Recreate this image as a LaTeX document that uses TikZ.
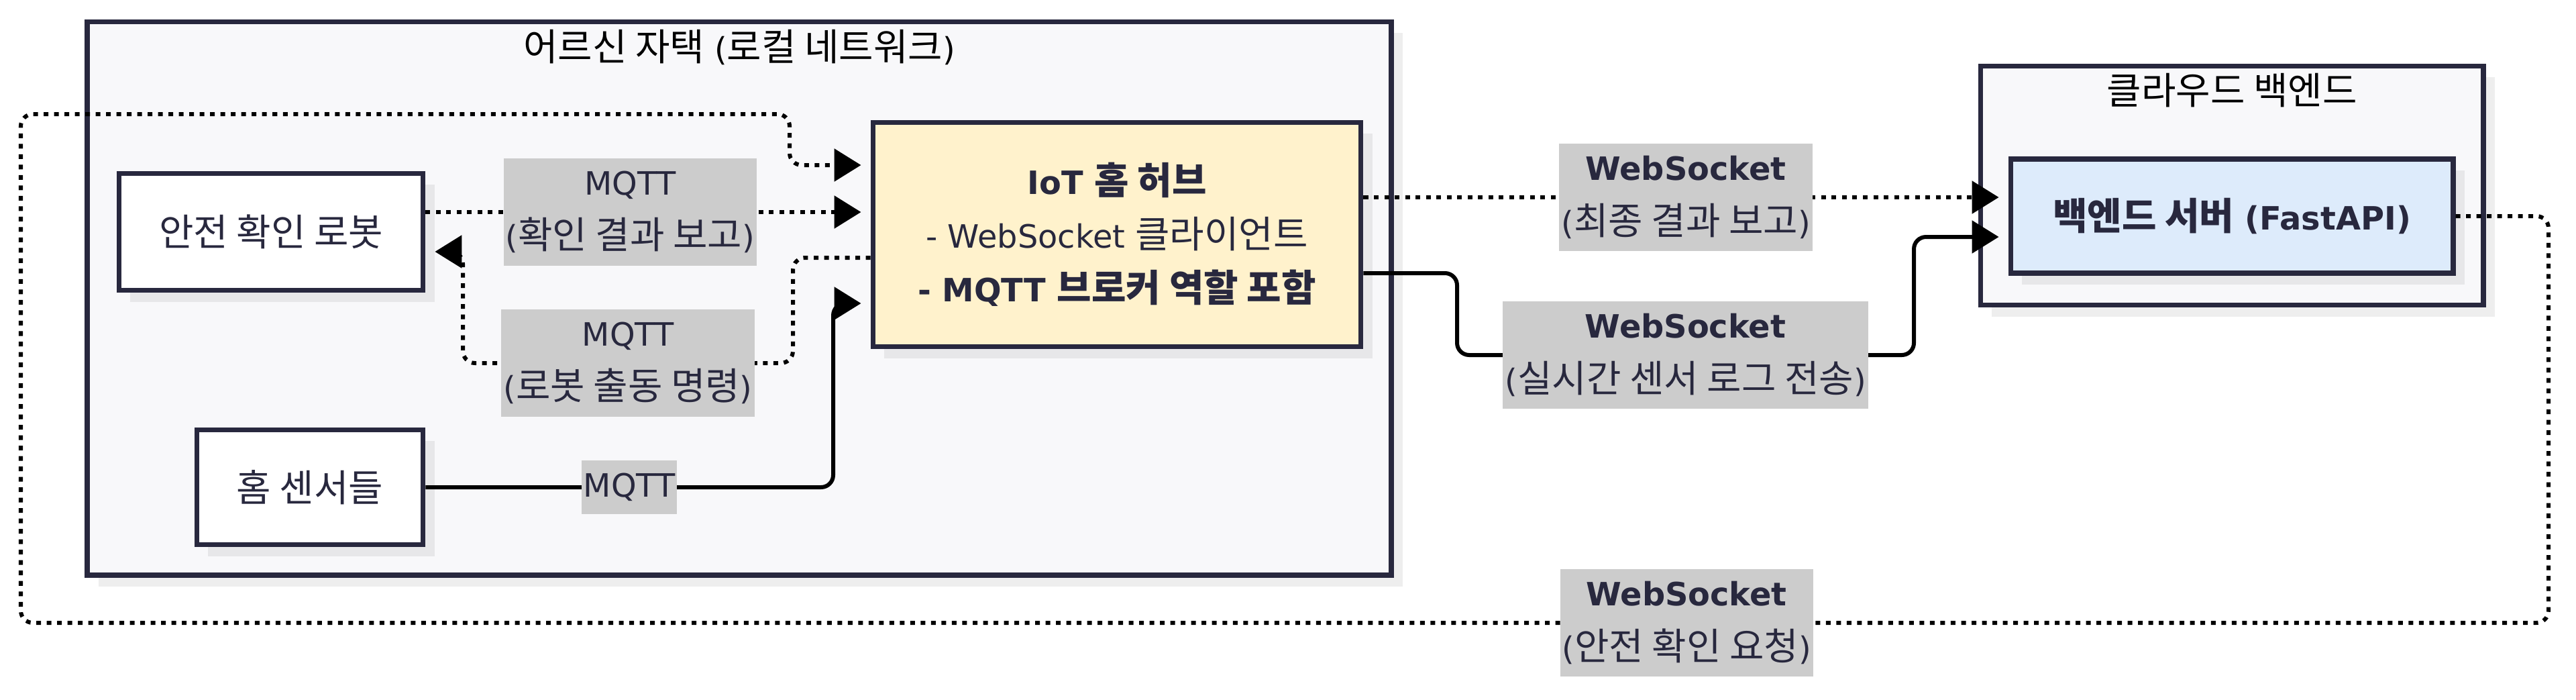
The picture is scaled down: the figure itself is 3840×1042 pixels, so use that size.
\documentclass[tikz,border=0pt]{standalone}
\usepackage{fontspec}
\setmainfont{DejaVu Sans}
\newfontfamily\krfont{Noto Sans CJK KR}[Scale=1.17]
\newcommand{\kr}[1]{{\krfont #1}}
\usetikzlibrary{arrows.meta, positioning, shadows}
\definecolor{ink}{HTML}{28283E}
\definecolor{groupbg}{HTML}{F8F8FA}
\definecolor{hubfill}{HTML}{FFF2CC}
\definecolor{serverfill}{HTML}{DDEBFB}
\definecolor{tagfill}{HTML}{CCCCCC}

\begin{document}
\begin{tikzpicture}[
      x=0.01cm, y=-0.01cm,
      font=\fontsize{13.6}{22.8}\selectfont,
      shade/.style={drop shadow={shadow xshift=0.17cm, shadow yshift=-0.17cm, fill=black, opacity=0.065}},
      group/.style={draw=ink, line width=0.075cm, fill=groupbg, shade},
      grouptitle/.style={text=black, inner sep=0pt},
      device/.style={draw=ink, line width=0.075cm, fill=white, text=ink, align=center, shade},
      tag/.style={fill=tagfill, text=ink, align=center, sharp corners, inner xsep=0.03cm, inner ysep=0.19cm, minimum height=0.79cm},
      link/.style={line width=0.06cm, rounded corners=0.18cm, -{Triangle[length=0.4cm, width=0.48cm]}, shorten >=0.14cm},
      dots/.style={link, dash pattern=on 0.07cm off 0.085cm}
    ]
    \useasboundingbox (0,0) rectangle (3840,1042);

    \node[group, minimum width=19.43cm, minimum height=8.24cm] (home) at (1102,444.5) {};
    \node[grouptitle, below=0.15cm of home.north] (hometitle) {\kr{어르신 자택} (\kr{로컬 네트워크})};
    \node[group, minimum width=7.49cm, minimum height=3.56cm] (cloud) at (3327,276.5) {};
    \node[grouptitle, below=0.14cm of cloud.north] (cloudtitle) {\kr{클라우드 백엔드}};

    \node[device, minimum width=4.53cm, minimum height=1.74cm] (robot) at (404,345.5) {\kr{안전 확인 로봇}};
    \node[device, minimum width=3.37cm, minimum height=1.71cm] (sensors) at (462,726) {\kr{홈 센서들}};
    \node[device, fill=hubfill, minimum width=7.27cm, minimum height=3.34cm] (hub) at (1665,349.5)
      {\textbf{IoT \kr{홈 허브}}\\- WebSocket \kr{클라이언트}\\\textbf{- MQTT \kr{브로커 역할 포함}}};
    \node[device, fill=serverfill, minimum width=6.59cm, minimum height=1.70cm] (backend) at (3327,322)
      {\textbf{\kr{백엔드 서버} (FastAPI)}};

    \draw[dots] (robot.east |- 0,316) -- node[tag, pos=0.46] (reporttag) {MQTT\\(\kr{확인 결과 보고})} (hub.west |- 0,316);
    \draw[dots] (hub.west |- 0,384) -- (1182,384) -- (1182,541)
      -- node[tag] (cmdtag) {MQTT\\(\kr{로봇 출동 명령})} (690,541) -- (690,375) -- (robot.east |- 0,375);
    \draw[link] (sensors.east) -- node[tag] (sensortag) {MQTT} (1242,726) -- (1242,452) -- (hub.west |- 0,452);
    \draw[dots] (hub.east |- 0,294) -- node[tag] (finaltag) {\textbf{WebSocket}\\(\kr{최종 결과 보고})} (backend.west |- 0,294);
    \draw[link] (hub.east |- 0,407) -- (2172,407) -- (2172,529)
      -- node[tag] (logtag) {\textbf{WebSocket}\\(\kr{실시간 센서 로그 전송})} (2853,529) -- (2853,353) -- (backend.west |- 0,353);
    \draw[dots] (backend.east) -- (3799,322) -- (3799,928)
      -- node[tag, pos=0.341] (reqtag) {\textbf{WebSocket}\\(\kr{안전 확인 요청})} (31,928)
      -- (31,170) -- (1177,170) -- (1177,246) -- (hub.west |- 0,246);
  \end{tikzpicture}
\end{document}
